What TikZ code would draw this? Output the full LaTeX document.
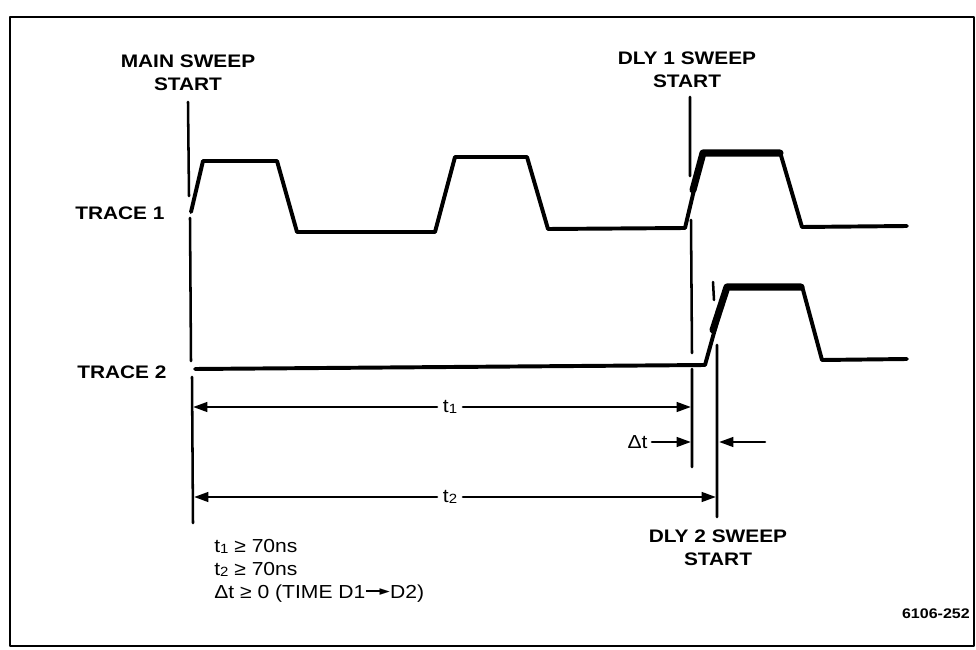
\documentclass[tikz,border=0pt]{standalone}
\usepackage{fontspec}
\setmainfont{Liberation Sans}[FakeStretch=1.12]
\newfontfamily\capfont{Liberation Sans}[FakeStretch=1.15]
\newfontfamily\symfont{DejaVu Sans}
\usetikzlibrary{arrows.meta}
\newcommand{\ix}[1]{\raisebox{-0.8pt}{\fontsize{9.5pt}{9.5pt}\selectfont #1}}
\newcommand{\toarrow}{\kern0.05em\raisebox{0.31em}{\rule{0.85em}{1.3pt}}\kern-0.15em\raisebox{1.5pt}{\fontsize{9.5pt}{9.5pt}\symfont ►}\kern0.02em}

\begin{document}
\begin{tikzpicture}[x=0.025cm, y=-0.025cm, line cap=round, line join=round,
	every node/.style={inner sep=0pt},
	head/.style={font=\capfont\bfseries\fontsize{12.9pt}{16.2pt}\selectfont, align=center, anchor=north},
	tname/.style={font=\capfont\bfseries\fontsize{12.9pt}{15pt}\selectfont, anchor=base west},
	note/.style={font=\fontsize{13.4pt}{16pt}\selectfont},
	trace/.style={line width=2.8pt},
	heavy/.style={line width=5pt},
	sweep/.style={line width=1.8pt},
	dim/.style={line width=1.8pt, -{Triangle[length=0.36cm,width=0.24cm]}}]
	\useasboundingbox (0,0) rectangle (976,650);
	\draw[line width=1.8pt] (10,17) rectangle (974,646);
	% labels
	\node[head] (mainlbl) at (188,55) {MAIN SWEEP\\START};
	\node[head] (dly1lbl) at (687,52) {DLY 1 SWEEP\\START};
	\node[head] (dly2lbl) at (718,530) {DLY 2 SWEEP\\START};
	\node[tname] (tr1) at (75,220) {TRACE 1};
	\node[tname] (tr2) at (77,378) {TRACE 2};
	\node[font=\capfont\bfseries\fontsize{9.9pt}{10pt}\selectfont, anchor=base east] (fignum) at (970,618) {6106-252};
	% sweep start lines
	\coordinate (m0) at (188,102); \coordinate (m1) at (189,196);
	\coordinate (m2) at (190,218); \coordinate (m3) at (191,361);
	\coordinate (m4) at (192,377); \coordinate (m5) at (193,523);
	\draw[sweep] (m0) -- (m1) (m2) -- (m3) (m4) -- (m5);
	\coordinate (d0) at (690,97); \coordinate (d1) at (690,176);
	\coordinate (d2) at (691,220); \coordinate (d3) at (692,353);
	\coordinate (d4) at (692,369); \coordinate (d5) at (692,467);
	\draw[sweep] (d0) -- (d1) (d2) -- (d3) (d4) -- (d5);
	\coordinate (e0) at (713,282); \coordinate (e1) at (714,300);
	\coordinate (e2) at (717,345); \coordinate (e3) at (717,517);
	\draw[sweep] (e0) -- (e1) (e2) -- (e3);
	% traces
	\draw[trace] (191,212) -- (203,161) -- (277,161) -- (297,232) -- (435,232) -- (455,157) -- (527,157) -- (548,229) -- (685,228) -- (703,152) -- (780,152) -- (802,227) -- (907,226);
	\draw[heavy] (693,190) -- (703,153) -- (780,153);
	\draw[trace] (195,369) -- (705,365) -- (727,286) -- (802,286) -- (822,360) -- (907,359);
	\draw[heavy] (713,330) -- (727,287) -- (801,287);
	% times
	\node[note, fill=white, inner xsep=4pt] (t1lab) at (450,407) {t\ix{1}};
	\coordinate (t1a) at (193,407); \coordinate (t1b) at (691,407);
	\draw[dim] (t1lab) -- (t1a);
	\draw[dim] (t1lab) -- (t1b);
	\node[note, anchor=east, inner xsep=3pt] (dtlab) at (652,442) {Δt};
	\coordinate (dta) at (691,442);
	\draw[dim] (dtlab) -- (dta);
	\coordinate (dtr) at (765,442); \coordinate (dtb) at (719,442);
	\draw[dim] (dtr) -- (dtb);
	\node[note, fill=white, inner xsep=4pt] (t2lab) at (450,497) {t\ix{2}};
	\coordinate (t2a) at (194,497); \coordinate (t2b) at (716,497);
	\draw[dim] (t2lab) -- (t2a);
	\draw[dim] (t2lab) -- (t2b);
	% conditions
	\node[note, anchor=base west] (cond1) at (214,552) {t\ix{1} ≥ 70ns};
	\node[note, anchor=base west] (cond2) at (214,575) {t\ix{2} ≥ 70ns};
	\node[note, anchor=base west] (cond3) at (214,598) {Δt ≥ 0 (TIME D1\toarrow D2)};
\end{tikzpicture}
\end{document}
